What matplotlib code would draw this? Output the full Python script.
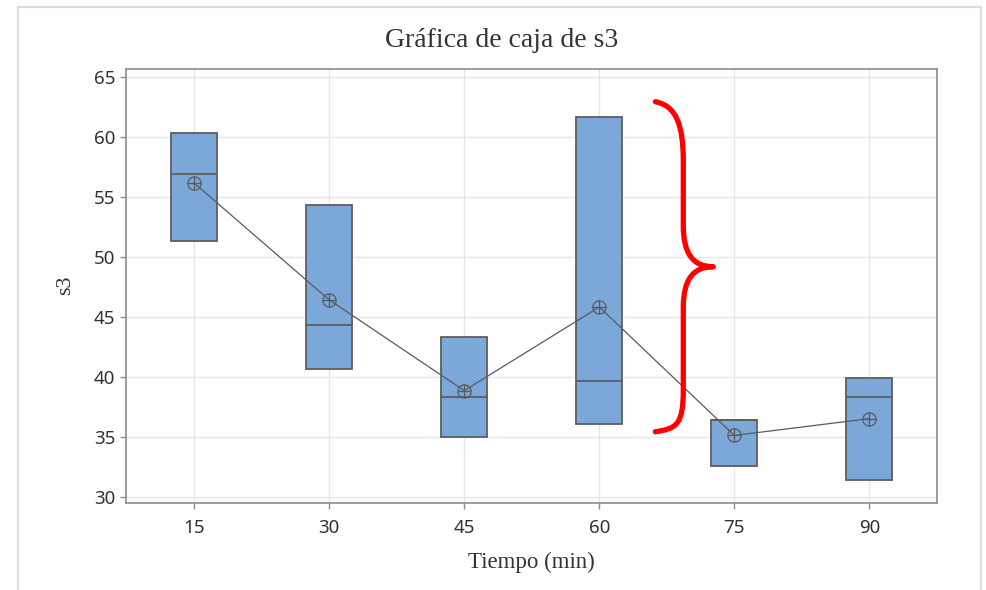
import numpy as np
import matplotlib
matplotlib.use("Agg")
import matplotlib.pyplot as plt
from matplotlib.path import Path
from matplotlib.patches import PathPatch, Rectangle

# three readings of s3 per time
tiempos = ["15", "30", "45", "60", "75", "90"]
s3_15 = [51.3, 56.9, 60.3]
s3_30 = [40.7, 44.3, 54.3]
s3_45 = [35.0, 38.3, 43.3]
s3_60 = [36.1, 39.7, 61.7]
s3_75 = [32.6, 36.4, 36.4]
s3_90 = [31.4, 38.3, 39.9]
grupos = [s3_15, s3_30, s3_45, s3_60, s3_75, s3_90]
y_ticks = [30, 35, 40, 45, 50, 55, 60, 65]

BOX_BLUE = "#7BA7D9"
EDGE = "#5E5E5E"
GRID = "#E6E6E6"
SPINE = "#8C8C8C"
TXT = "#333333"


def box_stats(data):
    # minitab style quartiles: (n+1)p positions
    q1 = np.percentile(data, 25, method="weibull")
    med = np.median(data)
    q3 = np.percentile(data, 75, method="weibull")
    return dict(med=med, q1=q1, q3=q3, whislo=min(data), whishi=max(data),
                mean=np.mean(data), fliers=[])


fig = plt.figure(figsize=(9.87, 5.9), dpi=100)
ax = fig.add_axes([0.1274, 0.148, 0.8219, 0.7345])

pos = np.arange(len(grupos))
stats = [box_stats(g) for g in grupos]
ax.bxp(stats, positions=pos, widths=0.34, patch_artist=True, showcaps=False,
       showfliers=False,
       boxprops=dict(facecolor=BOX_BLUE, edgecolor=EDGE, linewidth=1.3),
       medianprops=dict(color=EDGE, linewidth=1.3),
       whiskerprops=dict(color=EDGE, linewidth=1.3), zorder=3)

means = [s["mean"] for s in stats]
ax.plot(pos, means, color="#5A5A5A", lw=0.9, zorder=4)
ax.plot(pos, means, "o", ms=9.5, mfc="none", mec="#5A5A5A", mew=0.9, zorder=5)
ax.plot(pos, means, "+", ms=9.5, mec="#5A5A5A", mew=0.9, zorder=5)

ax.set_xlim(-0.506, 5.5)
ax.set_ylim(29.53, 65.64)
ax.set_xticks(pos)
ax.set_xticklabels(tiempos)
ax.set_yticks(y_ticks)

ax.grid(True, color=GRID, lw=1.0, zorder=0)
ax.set_axisbelow(True)
for sp in ax.spines.values():
    sp.set_color(SPINE)
    sp.set_linewidth(1.2)
ax.tick_params(axis="both", colors=SPINE, labelcolor=TXT, labelsize=13.5,
               length=4.5, width=1.0)
ax.tick_params(axis="x", pad=7)
ax.tick_params(axis="y", pad=3)
for lab in ax.get_xticklabels() + ax.get_yticklabels():
    lab.set_family("Noto Sans")

serif = "Liberation Serif"
fig.text(0.508, 0.932, "Gráfica de caja de s3", ha="center", va="center",
         family=serif, fontsize=20, color=TXT)
fig.text(0.5386, 0.046, "Tiempo (min)", ha="center", va="center",
         family=serif, fontsize=16.5, color=TXT)
fig.text(0.066, 0.517, "s3", ha="center", va="center", rotation=90,
         family=serif, fontsize=16, color=TXT)

# red curly brace annotation next to the 60 min box
verts = [(3.415, 62.94), (3.57, 62.6), (3.622, 61.0), (3.622, 58.0),
         (3.622, 52.6),
         (3.622, 50.2), (3.70, 49.19), (3.844, 49.19),
         (3.70, 49.19), (3.622, 48.2), (3.622, 45.8),
         (3.622, 38.9),
         (3.622, 36.0), (3.57, 35.7), (3.415, 35.44)]
codes = [Path.MOVETO, Path.CURVE4, Path.CURVE4, Path.CURVE4,
         Path.LINETO,
         Path.CURVE4, Path.CURVE4, Path.CURVE4,
         Path.CURVE4, Path.CURVE4, Path.CURVE4,
         Path.LINETO,
         Path.CURVE4, Path.CURVE4, Path.CURVE4]
brace = PathPatch(Path(verts, codes), facecolor="none", edgecolor="#FF0000",
                  lw=3.8, capstyle="round", joinstyle="round", zorder=6)
ax.add_patch(brace)

# light outer frame of the screenshot
fig.add_artist(Rectangle((17.5 / 987, -0.2), (981 - 17.5) / 987, 1.2 - 7 / 590,
                         transform=fig.transFigure, fill=False,
                         edgecolor="#DCDCDC", lw=1.6, clip_on=False))

fig.savefig("out.png", dpi=100, facecolor="white")
